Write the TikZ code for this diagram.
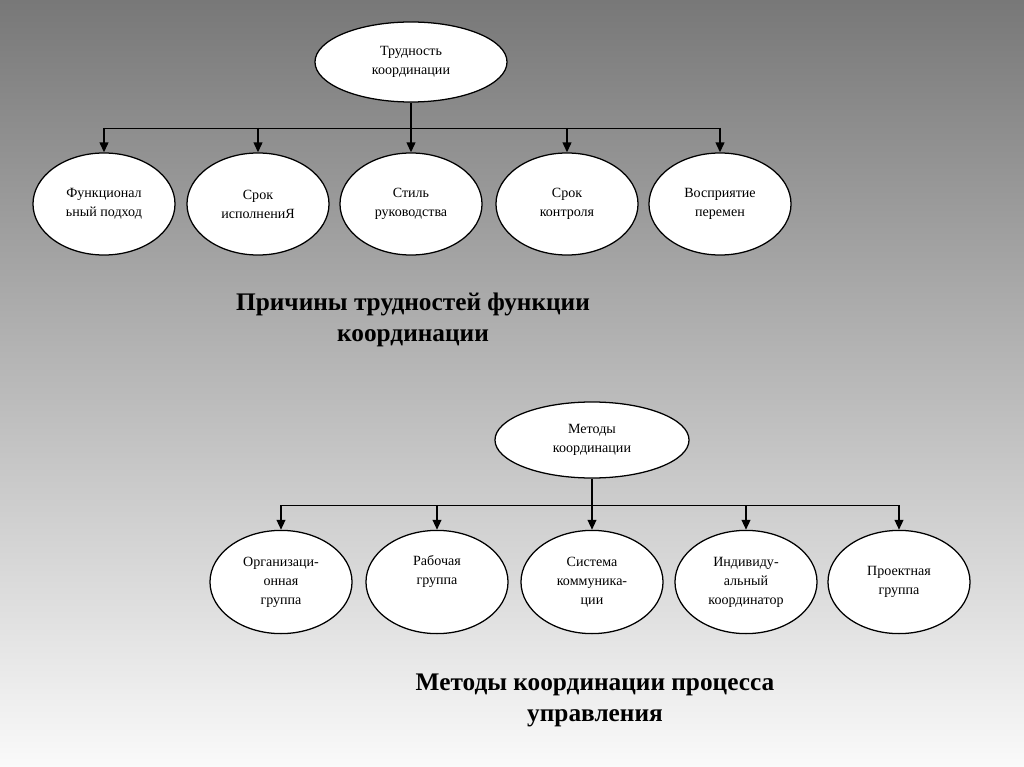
\documentclass[tikz,border=0pt]{standalone}
\usepackage{fontspec}
\setmainfont{Liberation Serif}
\usetikzlibrary{arrows.meta, positioning, shapes.geometric}

\begin{document}
\begin{tikzpicture}[
  x=0.025cm, y=-0.025cm,
  font=\fontsize{10}{13.5}\selectfont,
  oval/.style={draw, ellipse, fill=white, line width=0.9pt, inner sep=0pt, minimum width=3.55cm, minimum height=2.55cm, align=center},
  head/.style={oval, minimum width=4.8cm, minimum height=2.0cm},
  link/.style={line width=0.6pt},
  drop/.style={line width=1.2pt, -{Triangle[length=2.5mm, width=2.2mm]}},
  caption/.style={font=\fontsize{18}{22}\selectfont\bfseries, align=center}
]
\shade[top color=black!53, middle color=black!25, bottom color=black!2] (0,0) rectangle (1024,767);
\useasboundingbox (0,0) rectangle (1024,767);
% causes of difficulty
\node[head] (tr) at (411,62) {Трудность\\координации};
\foreach \i/\x/\txt in {1/104/{Функционал\\ьный подход},2/258/{Срок\\исполнениЯ},3/411/{Стиль\\руководства},4/567/{Срок\\контроля},5/720/{Восприятие\\перемен}} {
  \node[oval] (c\i) at (\x,204) {\txt};
}
\coordinate (cbar) at (0,128);
\draw[link] (c1.north |- cbar) -- (c5.north |- cbar);
\draw[drop] (tr.south) -- (c3.north);
\foreach \i in {1,2,4,5} \draw[drop] (c\i.north |- cbar) -- (c\i.north);
\node[caption] (t1) at (413,320) {Причины трудностей функции\\координации};
% methods
\node[head, minimum width=4.85cm, minimum height=1.9cm] (mk) at (592,440) {Методы\\координации};
\foreach \i/\x/\txt in {1/281/{Организаци-\\онная\\группа},2/437/{Рабочая\\группа\\\strut},3/592/{Система\\коммуника-\\ции},4/746/{Индивиду-\\альный\\координатор},5/899/{Проектная\\группа}} {
  \node[oval, minimum height=2.58cm] (m\i) at (\x,582) {\txt};
}
\coordinate (mbar) at (0,505);
\draw[link] (m1.north |- mbar) -- (m5.north |- mbar);
\draw[drop] (mk.south) -- (m3.north);
\foreach \i in {1,2,4,5} \draw[drop] (m\i.north |- mbar) -- (m\i.north);
\node[caption] (t2) at (595,700) {Методы координации процесса\\управления};
\end{tikzpicture}
\end{document}
